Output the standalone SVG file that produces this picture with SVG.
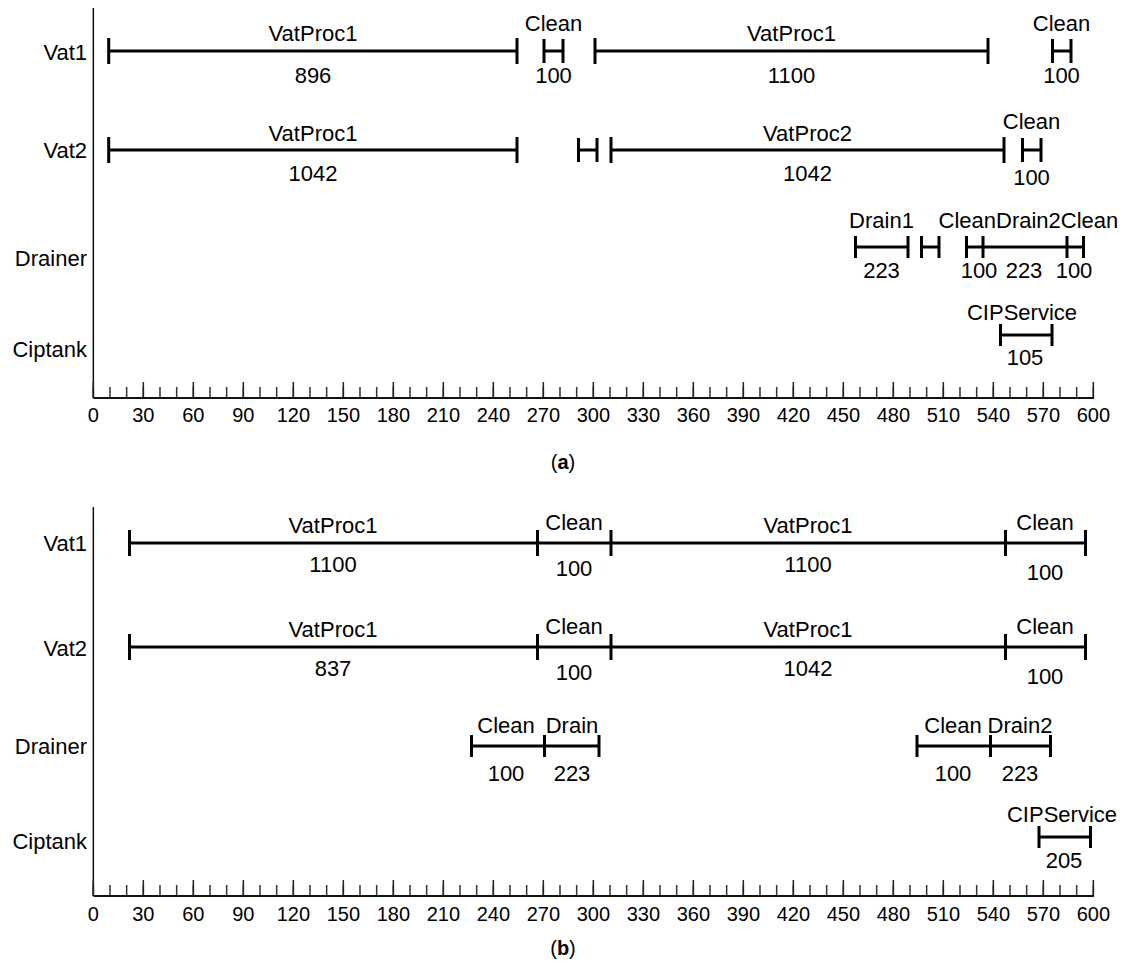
<svg xmlns="http://www.w3.org/2000/svg" width="1126" height="974" viewBox="0 0 1126 974">
<style>
text{font-family:"Liberation Sans",Arial,Helvetica,sans-serif;fill:#000}
.lbl{font-size:22px;text-anchor:middle}
.row{font-size:22px;text-anchor:end}
.num{font-size:20px;text-anchor:middle}
.cap{font-size:20px;text-anchor:middle}
.bar{stroke:#000;stroke-width:3;fill:none}
.axis{stroke:#111;stroke-width:2;fill:none}
.vaxis{stroke:#111;stroke-width:1.5;fill:none}
.minor{stroke:#333;stroke-width:11;stroke-dasharray:1.5 15.16667;fill:none}
.major{stroke:#222;stroke-width:16;stroke-dasharray:1.5 48.5;fill:none}
</style>
<rect width="1126" height="974" fill="#fff"/>

<!-- ================= (a) ================= -->
<g id="chart-a">
  <g id="a-axis">
    <line class="vaxis" x1="93.33" y1="8" x2="93.33" y2="398"/>
    <line class="minor" x1="92.58" y1="392.5" x2="1094.1" y2="392.5"/>
    <line class="major" x1="92.58" y1="390" x2="1094.1" y2="390"/>
    <line class="axis" x1="93.33" y1="398" x2="1094" y2="398"/>
    <g>
      <text class="num" x="93.33" y="422">0</text>
      <text class="num" x="143.33" y="422">30</text>
      <text class="num" x="193.33" y="422">60</text>
      <text class="num" x="243.33" y="422">90</text>
      <text class="num" x="293.33" y="422">120</text>
      <text class="num" x="343.33" y="422">150</text>
      <text class="num" x="393.33" y="422">180</text>
      <text class="num" x="443.33" y="422">210</text>
      <text class="num" x="493.33" y="422">240</text>
      <text class="num" x="543.33" y="422">270</text>
      <text class="num" x="593.33" y="422">300</text>
      <text class="num" x="643.33" y="422">330</text>
      <text class="num" x="693.33" y="422">360</text>
      <text class="num" x="743.33" y="422">390</text>
      <text class="num" x="793.33" y="422">420</text>
      <text class="num" x="843.33" y="422">450</text>
      <text class="num" x="893.33" y="422">480</text>
      <text class="num" x="943.33" y="422">510</text>
      <text class="num" x="993.33" y="422">540</text>
      <text class="num" x="1043.33" y="422">570</text>
      <text class="num" x="1093.33" y="422">600</text>
    </g>
    <text class="cap" x="563" y="469">(<tspan font-weight="bold">a</tspan>)</text>
  </g>

  <g id="a-vat1">
    <text class="row" x="87" y="60">Vat1</text>
    <path class="bar" d="M108.7 38V64M108.7 51H517M517 38V64"/>
    <text class="lbl" x="313" y="41">VatProc1</text>
    <text class="lbl" x="313" y="83">896</text>
    <path class="bar" d="M544 39V63M544 51H563M563 39V63"/>
    <text class="lbl" x="553.5" y="31">Clean</text>
    <text class="lbl" x="553.5" y="83">100</text>
    <path class="bar" d="M595 38V64M595 51H988M988 38V64"/>
    <text class="lbl" x="791.5" y="41">VatProc1</text>
    <text class="lbl" x="791.5" y="83">1100</text>
    <path class="bar" d="M1052.5 39V63M1052.5 51H1071M1071 39V63"/>
    <text class="lbl" x="1061.5" y="31">Clean</text>
    <text class="lbl" x="1061.5" y="83">100</text>
  </g>

  <g id="a-vat2">
    <text class="row" x="87" y="158">Vat2</text>
    <path class="bar" d="M108.7 137V163M108.7 150H517M517 137V163"/>
    <text class="lbl" x="313" y="141">VatProc1</text>
    <text class="lbl" x="313" y="181">1042</text>
    <path class="bar" d="M578.5 138V162M578.5 150H597M597 138V162"/>
    <path class="bar" d="M611 137V163M611 150H1004M1004 137V163"/>
    <text class="lbl" x="807.5" y="141">VatProc2</text>
    <text class="lbl" x="807.5" y="181">1042</text>
    <path class="bar" d="M1022.5 138V162M1022.5 150H1041M1041 138V162"/>
    <text class="lbl" x="1031.5" y="129">Clean</text>
    <text class="lbl" x="1031.5" y="185">100</text>
  </g>

  <g id="a-drainer">
    <text class="row" x="87" y="266">Drainer</text>
    <path class="bar" d="M855.5 236V258M855.5 247H908M908 236V258"/>
    <text class="lbl" x="881.5" y="228">Drain1</text>
    <text class="lbl" x="881.5" y="278">223</text>
    <path class="bar" d="M921.5 236V258M921.5 247H939M939 236V258"/>
    <path class="bar" d="M966.5 236V258M966.5 247H983M983 236V258"/>
    <path class="bar" d="M983 247H1067M1067 236V258"/>
    <path class="bar" d="M1067 247H1083.5M1083.5 236V258"/>
    <text x="938.5" y="228" font-size="22">Clean</text>
    <text x="996" y="228" font-size="22">Drain2</text>
    <text x="1060.8" y="228" font-size="22">Clean</text>
    <text class="lbl" x="979" y="278">100</text>
    <text class="lbl" x="1024" y="278">223</text>
    <text class="lbl" x="1074" y="278">100</text>
  </g>

  <g id="a-ciptank">
    <text class="row" x="87" y="357">Ciptank</text>
    <path class="bar" d="M1000.5 324V346M1000.5 335H1052M1052 324V346"/>
    <text class="lbl" x="1022" y="320">CIPService</text>
    <text class="lbl" x="1025" y="365">105</text>
  </g>
</g>

<!-- ================= (b) ================= -->
<g id="chart-b">
  <g id="b-axis">
    <line class="vaxis" x1="93.33" y1="507" x2="93.33" y2="896"/>
    <line class="minor" x1="92.58" y1="890.5" x2="1094.1" y2="890.5"/>
    <line class="major" x1="92.58" y1="888" x2="1094.1" y2="888"/>
    <line class="axis" x1="93.33" y1="896" x2="1094" y2="896"/>
    <g>
      <text class="num" x="93.33" y="921">0</text>
      <text class="num" x="143.33" y="921">30</text>
      <text class="num" x="193.33" y="921">60</text>
      <text class="num" x="243.33" y="921">90</text>
      <text class="num" x="293.33" y="921">120</text>
      <text class="num" x="343.33" y="921">150</text>
      <text class="num" x="393.33" y="921">180</text>
      <text class="num" x="443.33" y="921">210</text>
      <text class="num" x="493.33" y="921">240</text>
      <text class="num" x="543.33" y="921">270</text>
      <text class="num" x="593.33" y="921">300</text>
      <text class="num" x="643.33" y="921">330</text>
      <text class="num" x="693.33" y="921">360</text>
      <text class="num" x="743.33" y="921">390</text>
      <text class="num" x="793.33" y="921">420</text>
      <text class="num" x="843.33" y="921">450</text>
      <text class="num" x="893.33" y="921">480</text>
      <text class="num" x="943.33" y="921">510</text>
      <text class="num" x="993.33" y="921">540</text>
      <text class="num" x="1043.33" y="921">570</text>
      <text class="num" x="1093.33" y="921">600</text>
    </g>
    <text class="cap" x="563" y="955">(<tspan font-weight="bold">b</tspan>)</text>
  </g>

  <g id="b-vat1">
    <text class="row" x="87" y="551">Vat1</text>
    <path class="bar" d="M129.5 530V556M129.5 543H537.5M537.5 530V556"/>
    <text class="lbl" x="333" y="533">VatProc1</text>
    <text class="lbl" x="333" y="572">1100</text>
    <path class="bar" d="M537.5 543H611M611 530V556"/>
    <text class="lbl" x="574" y="530">Clean</text>
    <text class="lbl" x="574" y="576">100</text>
    <path class="bar" d="M611 543H1005.5M1005.5 530V556"/>
    <text class="lbl" x="808" y="533">VatProc1</text>
    <text class="lbl" x="808" y="572">1100</text>
    <path class="bar" d="M1005.5 543H1085.5M1085.5 530V556"/>
    <text class="lbl" x="1045" y="530">Clean</text>
    <text class="lbl" x="1045" y="580">100</text>
  </g>

  <g id="b-vat2">
    <text class="row" x="87" y="656">Vat2</text>
    <path class="bar" d="M129.5 634V660M129.5 647H537.5M537.5 634V660"/>
    <text class="lbl" x="333" y="637">VatProc1</text>
    <text class="lbl" x="333" y="676">837</text>
    <path class="bar" d="M537.5 647H611M611 634V660"/>
    <text class="lbl" x="574" y="634">Clean</text>
    <text class="lbl" x="574" y="680">100</text>
    <path class="bar" d="M611 647H1005.5M1005.5 634V660"/>
    <text class="lbl" x="808" y="637">VatProc1</text>
    <text class="lbl" x="808" y="676">1042</text>
    <path class="bar" d="M1005.5 647H1085.5M1085.5 634V660"/>
    <text class="lbl" x="1045" y="634">Clean</text>
    <text class="lbl" x="1045" y="684">100</text>
  </g>

  <g id="b-drainer">
    <text class="row" x="87" y="754">Drainer</text>
    <path class="bar" d="M471.5 735V757M471.5 746H544.5M544.5 735V757"/>
    <text class="lbl" x="506" y="733">Clean</text>
    <text class="lbl" x="506" y="781">100</text>
    <path class="bar" d="M544.5 746H599M599 735V757"/>
    <text class="lbl" x="572" y="733">Drain</text>
    <text class="lbl" x="572" y="781">223</text>
    <path class="bar" d="M917 735V757M917 746H990.5M990.5 735V757"/>
    <text class="lbl" x="953" y="733">Clean</text>
    <text class="lbl" x="953" y="781">100</text>
    <path class="bar" d="M990.5 746H1050.5M1050.5 735V757"/>
    <text class="lbl" x="1020" y="733">Drain2</text>
    <text class="lbl" x="1020" y="781">223</text>
  </g>

  <g id="b-ciptank">
    <text class="row" x="87" y="849">Ciptank</text>
    <path class="bar" d="M1039 826V848M1039 837H1090.5M1090.5 826V848"/>
    <text class="lbl" x="1062" y="822">CIPService</text>
    <text class="lbl" x="1064" y="868">205</text>
  </g>
</g>
</svg>
